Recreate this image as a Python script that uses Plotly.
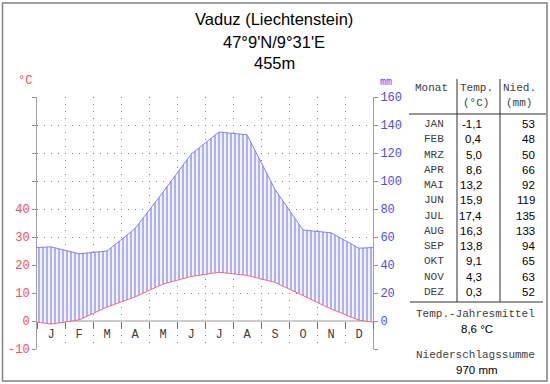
import plotly.graph_objects as go

# ---------------- data ----------------
month_letters = ["J", "F", "M", "A", "M", "J", "J", "A", "S", "O", "N", "D"]
month_names = ["JAN", "FEB", "MRZ", "APR", "MAI", "JUN", "JUL", "AUG", "SEP", "OKT", "NOV", "DEZ"]
temp_c = [-1.1, 0.4, 5.0, 8.6, 13.2, 15.9, 17.4, 16.3, 13.8, 9.1, 4.3, 0.3]
precip_mm = [53, 48, 50, 66, 92, 119, 135, 133, 94, 65, 63, 52]
mm_ticks = [-20, 0, 20, 40, 60, 80, 100, 120, 140, 160]
temp_tick_labels = ["-10", "0", "10", "20", "30", "40", "", "", "", ""]
precip_tick_labels = ["", "0", "20", "40", "60", "80", "100", "120", "140", "160"]
title_lines = ["Vaduz (Liechtenstein)", "47°9'N/9°31'E", "455m"]
annual_mean_c = 8.6
annual_sum_mm = 970

# ---------------- helpers ----------------
W, H = 550, 384
L, R, T, B = 37, 373, 97, 349


def px(x):
    return (x - L) / (R - L)


def py(y):
    return (B - y) / (B - T)


def de(v):
    return f"{v:.1f}".replace(".", ",")


MONO = "Liberation Mono, Courier New, monospace"
SANS = "Liberation Sans, Arial, sans-serif"
RED = "#ff4c4c"
BLUE = "#4c4cff"
GRID = "#808080"

# month centres plus wrap-around edges (Dec/Jan mean) as in the diagram
xs = [0] + [i + 0.5 for i in range(12)] + [12]
t_edge = (temp_c[0] + temp_c[-1]) / 2
p_edge = (precip_mm[0] + precip_mm[-1]) / 2
t_mm = [2 * t_edge] + [2 * t for t in temp_c] + [2 * t_edge]
p_vals = [p_edge] + precip_mm + [p_edge]

fig = go.Figure()
fig.add_trace(go.Scatter(x=xs, y=t_mm, mode="lines",
                         line=dict(color="#ff6a6a", width=1),
                         hoverinfo="skip", showlegend=False))
fig.add_trace(go.Scatter(x=xs, y=p_vals, mode="lines",
                         line=dict(color="#8080ff", width=1),
                         fill="tonexty", fillcolor="rgba(245,245,255,1)",
                         fillpattern=dict(shape="|", size=4, solidity=0.3,
                                          fgcolor="#8080ff", bgcolor="rgba(246,246,255,1)"),
                         hoverinfo="skip", showlegend=False))
fig.add_trace(go.Scatter(x=xs, y=p_vals, yaxis="y2", mode="lines",
                         line=dict(width=0, color="rgba(0,0,0,0)"),
                         hoverinfo="skip", showlegend=False))

fig.update_layout(
    template="none",
    width=W, height=H, autosize=False,
    margin=dict(l=L, r=W - R, t=T, b=H - B, pad=0),
    paper_bgcolor="white", plot_bgcolor="white",
    showlegend=False,
    xaxis=dict(
        range=[0, 12], anchor="free", position=py(321), automargin=False,
        tickvals=[i + 0.5 for i in range(12)], ticktext=month_letters,
        ticks="outside", ticklen=2, tickcolor="rgba(0,0,0,0)",
        tickfont=dict(family=MONO, size=12, color="#404040"),
        showgrid=False, zeroline=False, showline=False,
        minor=dict(tick0=0, dtick=1, ticks="outside", ticklen=7, tickcolor="#707070",
                   showgrid=True, gridcolor=GRID, griddash="1px,6px", gridwidth=1),
        fixedrange=True,
    ),
    yaxis=dict(
        range=[-20, 160], tickvals=mm_ticks, ticktext=temp_tick_labels, automargin=False,
        tickfont=dict(family=MONO, size=12, color=RED),
        ticks="outside", ticklen=4, tickcolor="#909090",
        showline=True, linecolor="#a0a0a0", linewidth=1,
        showgrid=True, gridcolor=GRID, griddash="1px,6px", gridwidth=1,
        zeroline=True, zerolinecolor="#cccccc", zerolinewidth=2,
        fixedrange=True,
    ),
    yaxis2=dict(
        range=[-20, 160], overlaying="y", side="right", anchor="x", automargin=False,
        tickvals=mm_ticks, ticktext=precip_tick_labels,
        tickfont=dict(family=MONO, size=12, color=BLUE),
        ticks="outside", ticklen=4, tickcolor="#909090",
        showline=True, linecolor="#a0a0a0", linewidth=1,
        showgrid=False, zeroline=False, fixedrange=True,
    ),
)


def note(x, y, text, family, size, color, xanchor="center"):
    return dict(x=px(x), y=py(y), xref="paper", yref="paper", text=text, showarrow=False,
                xanchor=xanchor, yanchor="middle", font=dict(family=family, size=size, color=color))


ann = []
for i, line in enumerate(title_lines):
    ann.append(note(274, [19, 42, 63][i], line, SANS, 16.5, "black"))
ann.append(note(25, 81, "°C", MONO, 12, RED))
ann.append(note(386, 82, "mm", MONO, 10, BLUE))

# table header
HDR = "#404040"
ann.append(note(431, 88, "Monat", MONO, 11, HDR))
ann.append(note(476, 88, "Temp.", MONO, 11, HDR))
ann.append(note(476, 103, "(°C)", MONO, 11, HDR))
ann.append(note(519, 88, "Nied.", MONO, 11, HDR))
ann.append(note(519, 103, "(mm)", MONO, 11, HDR))

row_h = (292 - 124) / 11
for i in range(12):
    yy = 124 + i * row_h
    ann.append(note(434, yy, month_names[i], MONO, 11, HDR))
    ann.append(note(484, yy, de(temp_c[i]), SANS, 11.5, "black", "right"))
    ann.append(note(537, yy, str(precip_mm[i]), SANS, 11.5, "black", "right"))

ann.append(note(475, 314, "Temp.-Jahresmittel", MONO, 11, HDR))
ann.append(note(477, 329, f"{de(annual_mean_c)} °C", SANS, 11.5, "black"))
ann.append(note(475, 355, "Niederschlagssumme", MONO, 11, HDR))
ann.append(note(477, 370, f"{annual_sum_mm} mm", SANS, 11.5, "black"))

fig.update_layout(annotations=ann)

line_col = "#303030"


def seg(x0, y0, x1, y1, color=line_col, width=1):
    return dict(type="line", xref="paper", yref="paper", x0=px(x0), x1=px(x1),
                y0=py(y0), y1=py(y1), line=dict(color=color, width=width))


shapes = [
    dict(type="rect", xref="paper", yref="paper", x0=px(2.5), x1=px(547), y0=py(381), y1=py(3),
         line=dict(color="#808080", width=1.5)),
    seg(457, 79, 457, 302),
    seg(500, 79, 500, 302),
    seg(409, 114, 546, 114),
    seg(410, 302, 543, 302),
]
fig.update_layout(shapes=shapes)

fig.write_html("out.html",
               config={"displayModeBar": False},
               post_script="document.body.style.margin='0';document.body.style.padding='0';")
